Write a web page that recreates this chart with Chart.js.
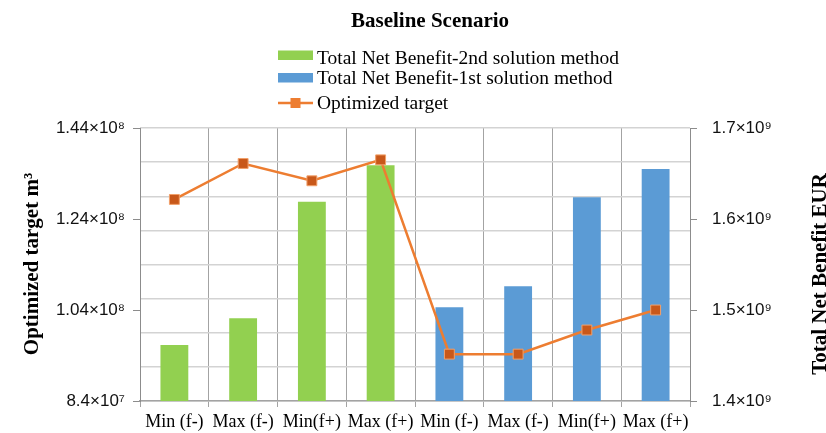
<!DOCTYPE html>
<html>
<head>
<meta charset="utf-8">
<title>Baseline Scenario</title>
<script src="https://cdn.jsdelivr.net/npm/chart.js@4.4.1/dist/chart.umd.min.js"></script>
<style>
  html, body { margin: 0; padding: 0; background: #fff; }
  #wrap { width: 826px; height: 433px; }
</style>
</head>
<body>
<div id="wrap"><canvas id="chart" width="826" height="433"></canvas></div>
<script>
// ---- data ----
const titleText = 'Baseline Scenario';
const categories = ['Min (f-)', 'Max (f-)', 'Min(f+)', 'Max (f+)', 'Min (f-)', 'Max (f-)', 'Min(f+)', 'Max (f+)'];
// Total Net Benefit, EUR (right axis)
const benefit2nd = [1.4615e9, 1.491e9, 1.619e9, 1.659e9, null, null, null, null];
const benefit1st = [null, null, null, null, 1.503e9, 1.526e9, 1.624e9, 1.655e9];
// Optimized target, m³ (left axis)
const optimizedTarget = [1.283e8, 1.362e8, 1.324e8, 1.370e8, 9.43e7, 9.43e7, 9.96e7, 1.04e8];
// axis ranges / tick steps
const targetTicks = { min: 8.4e7, max: 1.44e8, step: 2e7 };
const benefitTicks = { min: 1.4e9, max: 1.7e9, step: 1e8, gridStep: 4e7 };
const seriesNames = ['Total Net Benefit-2nd solution method', 'Total Net Benefit-1st solution method', 'Optimized target'];
const leftTitle = 'Optimized target m\u00B3';
const rightTitle = 'Total Net Benefit EUR';

// ---- styling ----
const GREEN = '#92d050', BLUE = '#5b9bd5', ORANGE = '#ed7d31', ORANGE_DARK = '#c8581a';
const AXIS = '#8c8c8c';
const SANS = '"Liberation Sans", Arial, sans-serif';
const SERIF = '"Liberation Serif", "Times New Roman", serif';

const SUP = { '0': '\u2070', '1': '\u00B9', '2': '\u00B2', '3': '\u00B3', '4': '\u2074',
              '5': '\u2075', '6': '\u2076', '7': '\u2077', '8': '\u2078', '9': '\u2079' };
function sci(v) {
  const e = Math.floor(Math.log10(v) + 1e-9);
  const m = +(v / Math.pow(10, e)).toFixed(2);
  return m + '\u00D710' + String(e).split('').map(c => SUP[c]).join('');
}

// Title, legend and rotated axis titles drawn on the canvas
const chartText = {
  id: 'chartText',
  afterDraw(chart) {
    const ctx = chart.ctx;
    const ds = chart.data.datasets;
    ctx.save();
    ctx.fillStyle = '#000';
    ctx.textAlign = 'center';
    ctx.textBaseline = 'alphabetic';
    ctx.font = 'bold 21px ' + SERIF;
    ctx.fillText(titleText, 430, 27);

    // legend (one entry per row, left aligned)
    const lx = 278, sw = 35, tx = 317;
    ctx.textAlign = 'left';
    ctx.font = '19.5px ' + SERIF;
    // bars
    [[1, 50.5, 63.5], [2, 73, 84]].forEach(([i, sy, by]) => {
      ctx.fillStyle = ds[i].backgroundColor;
      ctx.fillRect(lx, sy, sw, 9.5);
      ctx.fillStyle = '#000';
      ctx.fillText(ds[i].label, tx, by);
    });
    // line
    const ly = 103;
    ctx.strokeStyle = ds[0].borderColor;
    ctx.lineWidth = 2.5;
    ctx.beginPath(); ctx.moveTo(lx, ly); ctx.lineTo(lx + sw, ly); ctx.stroke();
    ctx.fillStyle = ds[0].borderColor;
    ctx.fillRect(lx + sw / 2 - 5, ly - 5, 10, 10);
    ctx.fillStyle = '#000';
    ctx.fillText(ds[0].label, tx, 109);

    // axis titles, both reading bottom to top
    ctx.font = 'bold 21px ' + SERIF;
    ctx.textAlign = 'center';
    ctx.save();
    ctx.translate(37.5, 264);
    ctx.rotate(-Math.PI / 2);
    ctx.fillText(leftTitle, 0, 0);
    ctx.restore();
    ctx.save();
    ctx.translate(826, 274);
    ctx.rotate(-Math.PI / 2);
    ctx.fillText(rightTitle, 0, 0);
    ctx.restore();
    ctx.restore();
  }
};

new Chart(document.getElementById('chart'), {
  data: {
    labels: categories,
    datasets: [
      {
        type: 'line',
        label: seriesNames[2],
        data: optimizedTarget,
        yAxisID: 'y',
        order: 0,
        borderColor: ORANGE,
        borderWidth: 2.5,
        pointStyle: 'rect',
        pointRadius: 7,
        pointBackgroundColor: ORANGE_DARK,
        pointBorderColor: '#f2a06a',
        pointBorderWidth: 1,
        tension: 0
      },
      {
        type: 'bar',
        label: seriesNames[0],
        data: benefit2nd,
        yAxisID: 'y1',
        order: 1,
        grouped: false,
        backgroundColor: GREEN,
        categoryPercentage: 1,
        barPercentage: 0.405
      },
      {
        type: 'bar',
        label: seriesNames[1],
        data: benefit1st,
        yAxisID: 'y1',
        order: 1,
        grouped: false,
        backgroundColor: BLUE,
        categoryPercentage: 1,
        barPercentage: 0.405
      }
    ]
  },
  options: {
    responsive: false,
    animation: false,
    layout: { padding: { top: 128, left: 0, right: 0, bottom: 0 } },
    plugins: { legend: { display: false }, title: { display: false }, tooltip: { enabled: false } },
    scales: {
      x: {
        type: 'category',
        offset: true,
        grid: { offset: true, color: '#a3a3a3', lineWidth: 1, tickLength: 6, drawTicks: true },
        border: { color: '#a3a3a3', width: 1.5 },
        ticks: { color: '#000', font: { family: SERIF, size: 18 }, padding: 4, maxRotation: 0, autoSkip: false },
        afterFit(s) { s.height = 32; }
      },
      y: {
        type: 'linear',
        position: 'left',
        min: targetTicks.min,
        max: targetTicks.max,
        ticks: {
          stepSize: targetTicks.step,
          color: '#111',
          font: { family: SANS, size: 17 },
          padding: 8,
          callback: v => sci(v)
        },
        grid: { drawOnChartArea: false, color: AXIS, tickLength: 7 },
        border: { color: AXIS, width: 1 },
        afterFit(s) { s.width = 140; }
      },
      y1: {
        type: 'linear',
        position: 'right',
        min: benefitTicks.min,
        max: benefitTicks.max,
        ticks: {
          stepSize: benefitTicks.step,
          color: '#111',
          font: { family: SANS, size: 17 },
          padding: 15,
          callback: v => sci(v)
        },
        grid: { drawOnChartArea: false, color: AXIS, tickLength: 7 },
        border: { color: AXIS, width: 1 },
        afterFit(s) { s.width = 136; }
      },
      // horizontal gridlines in the plot area
      gridY: {
        type: 'linear',
        position: 'right',
        min: benefitTicks.min,
        max: benefitTicks.max,
        ticks: { stepSize: benefitTicks.gridStep, display: false, includeBounds: false },
        grid: { drawTicks: false, color: '#d3d3d3', lineWidth: 1.5 },
        border: { display: false },
        afterFit(s) { s.width = 0; }
      }
    }
  },
  plugins: [chartText]
});
</script>
</body>
</html>
